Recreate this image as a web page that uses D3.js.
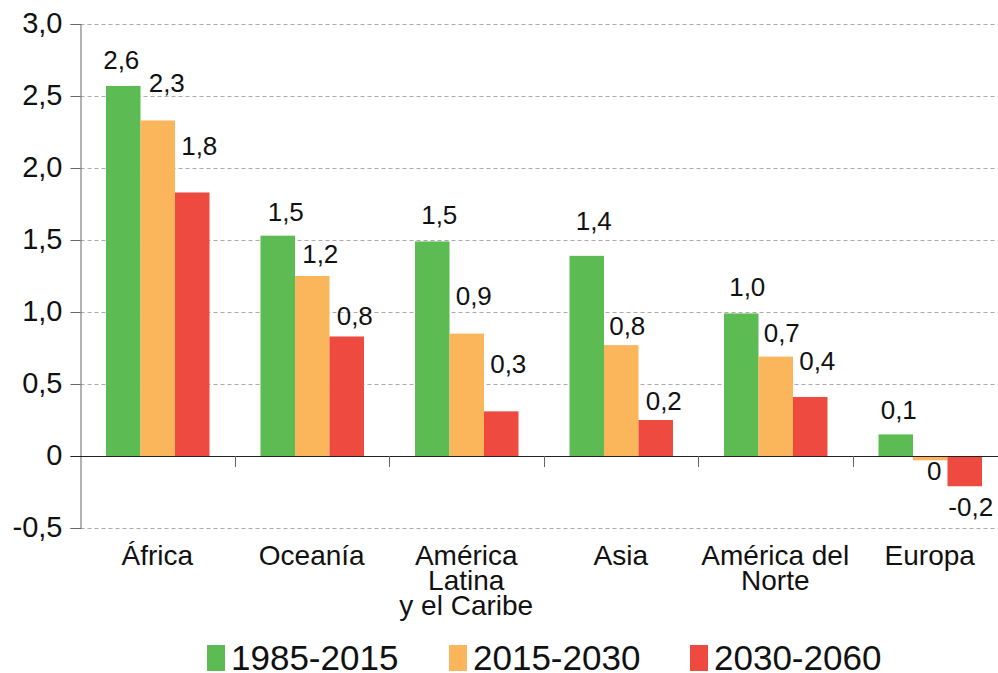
<!DOCTYPE html>
<html>
<head>
<meta charset="utf-8">
<script src="https://cdn.jsdelivr.net/npm/d3@7"></script>
<style>
  html, body { margin: 0; padding: 0; background: #fff; }
  svg { display: block; font-family: "Liberation Sans", Arial, sans-serif; }
</style>
</head>
<body>
<svg id="chart" width="998" height="673"></svg>
<script>
// ---- data ----
const categories = ["África", "Oceanía", "América\nLatina\ny el Caribe", "Asia", "América del\nNorte", "Europa"];
const seriesNames = ["1985-2015", "2015-2030", "2030-2060"];
const values1985 = [2.57, 1.53, 1.49, 1.39, 0.99, 0.15];
const values2015 = [2.33, 1.25, 0.85, 0.77, 0.69, -0.03];
const values2030 = [1.83, 0.83, 0.31, 0.25, 0.41, -0.21];
const labels1985 = ["2,6", "1,5", "1,5", "1,4", "1,0", "0,1"];
const labels2015 = ["2,3", "1,2", "0,9", "0,8", "0,7", "0"];
const labels2030 = ["1,8", "0,8", "0,3", "0,2", "0,4", "-0,2"];
const yTicks = [-0.5, 0, 0.5, 1.0, 1.5, 2.0, 2.5, 3.0];
const yTickLabels = ["-0,5", "0", "0,5", "1,0", "1,5", "2,0", "2,5", "3,0"];

// ---- layout (label nudges, px) ----
const labelLift = [[17, 15, 17, 26, 17, 15], [28, 13, 29, 10, 15, -20], [37, 11, 38, 10, 27, -30]];
const labelShift = [[-2, 8, 7, 7, 6, 3], [9, 8, 7, 6, 6, 4], [7, 8, 7, 8, 7, 6]];
const colors = ["#5cbb53", "#fbb55b", "#ee4a40"];

const seriesValues = [values1985, values2015, values2030];
const seriesLabels = [labels1985, labels2015, labels2030];

const svg = d3.select("#chart");
const axisX = 80.5;

const y = d3.scaleLinear().domain([-0.5, 3.0]).range([528, 24]);
const x = d3.scaleBand().domain(categories).range([80, 1007]).padding(0);
const xs = d3.scaleBand().domain(seriesNames).range([26, 129.5]).padding(0);

// gridlines
svg.append("g").selectAll("line").data(yTicks.filter(t => t !== 0)).join("line")
  .attr("x1", axisX).attr("x2", 998)
  .attr("y1", d => Math.round(y(d)) + 0.5).attr("y2", d => Math.round(y(d)) + 0.5)
  .attr("stroke", "#aaaaaa").attr("stroke-width", 1).attr("stroke-dasharray", "4,3");

// bars
seriesNames.forEach((s, si) => {
  svg.append("g").selectAll("rect").data(categories).join("rect")
    .attr("x", (c) => x(c) + xs(s))
    .attr("width", xs.bandwidth())
    .attr("y", (c, i) => y(Math.max(0, seriesValues[si][i])))
    .attr("height", (c, i) => Math.abs(y(seriesValues[si][i]) - y(0)))
    .attr("fill", colors[si]);
});

// y axis
const yAxis = d3.axisLeft(y).tickValues(yTicks).tickSize(10).tickFormat((d, i) => yTickLabels[i]);
const gy = svg.append("g").attr("transform", `translate(${axisX},0)`).call(yAxis);
gy.select(".domain").attr("stroke", "#666");
gy.selectAll(".tick line").attr("stroke", "#666");
gy.selectAll(".tick text").attr("x", -18).attr("dy", "0.3em")
  .attr("font-size", "29px").attr("fill", "#111")
  .attr("font-family", "'Liberation Sans', Arial, sans-serif");

// zero line
svg.append("line").attr("x1", axisX - 10).attr("x2", 998)
  .attr("y1", Math.round(y(0)) + 0.5).attr("y2", Math.round(y(0)) + 0.5)
  .attr("stroke", "#222").attr("stroke-width", 1.2);

// category boundary ticks
svg.append("g").selectAll("line").data(categories.slice(1)).join("line")
  .attr("x1", c => Math.round(x(c)) + 0.5).attr("x2", c => Math.round(x(c)) + 0.5)
  .attr("y1", y(0)).attr("y2", y(0) + 11)
  .attr("stroke", "#666");

// category labels
const cat = svg.append("g").selectAll("text").data(categories).join("text")
  .attr("x", c => x(c) + x.bandwidth() / 2)
  .attr("y", 565)
  .attr("text-anchor", "middle")
  .attr("font-size", "28px").attr("fill", "#111");
cat.each(function(c) {
  const lines = c.split("\n");
  d3.select(this).selectAll("tspan").data(lines).join("tspan")
    .attr("x", x(c) + x.bandwidth() / 2)
    .attr("dy", (d, i) => i === 0 ? 0 : 25)
    .text(d => d);
});

// value labels
seriesNames.forEach((s, si) => {
  svg.append("g").selectAll("text").data(categories).join("text")
    .attr("x", (c, i) => x(c) + xs(s) + xs.bandwidth() / 2 + labelShift[si][i])
    .attr("y", (c, i) => y(seriesValues[si][i]) - labelLift[si][i])
    .attr("text-anchor", "middle")
    .attr("font-size", "26px").attr("fill", "#111")
    .text((c, i) => seriesLabels[si][i]);
});

// legend
const legendX = [207, 449, 690];
const leg = svg.append("g").selectAll("g").data(seriesNames).join("g")
  .attr("transform", (d, i) => `translate(${legendX[i]},0)`);
leg.append("rect").attr("x", 0).attr("y", 645).attr("width", 18).attr("height", 26)
  .attr("fill", (d, i) => colors[i]);
leg.append("text").attr("x", 24).attr("y", 670)
  .attr("font-size", "35px").attr("fill", "#111")
  .text(d => d);
</script>
</body>
</html>
